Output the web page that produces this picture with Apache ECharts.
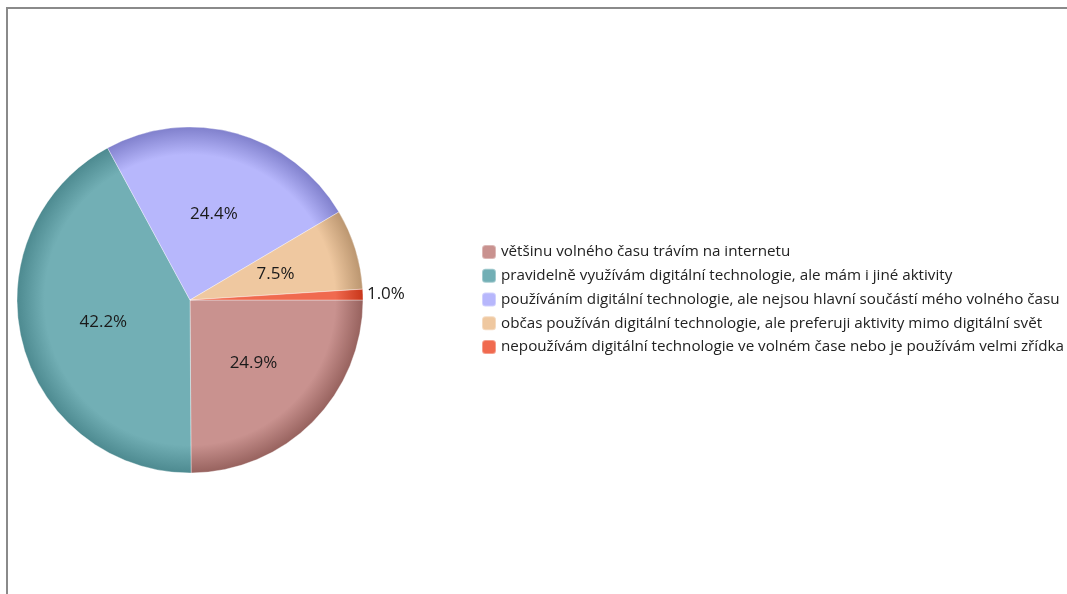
<!DOCTYPE html>
<html>
<head>
<meta charset="utf-8">
<script src="https://cdn.jsdelivr.net/npm/echarts@6/dist/echarts.min.js"></script>
<style>
  html, body { margin: 0; padding: 0; background: #fff; }
  #main { width: 1067px; height: 594px; }
</style>
</head>
<body>
<div id="main"></div>
<script>
// data
const categories = [
  "většinu volného času trávím na internetu",
  "pravidelně využívám digitální technologie, ale mám i jiné aktivity",
  "používáním digitální technologie, ale nejsou hlavní součástí mého volného času",
  "občas používán digitální technologie, ale preferuji aktivity mimo digitální svět",
  "nepoužívám digitální technologie ve volném čase nebo je používám velmi zřídka"
];
const values = [24.9, 42.2, 24.4, 7.5, 1.0];
const baseColors = ["#c9928f", "#72afb5", "#b7b7fc", "#efc8a0", "#f06a4f"];
const edgeColors = ["#97625e", "#4d8a90", "#8080cc", "#bb9670", "#c8361a"];

const cx = 190, cy = 300, radius = 173;

// shaded fill, darker near the rim
function shade(i) {
  return {
    type: "radial", x: cx, y: cy, r: radius, global: true,
    colorStops: [
      { offset: 0, color: baseColors[i] },
      { offset: 0.84, color: baseColors[i] },
      { offset: 1, color: edgeColors[i] }
    ]
  };
}

const chart = echarts.init(document.getElementById("main"));
chart.setOption({
  animation: false,
  color: baseColors,
  graphic: [{
    type: "rect",
    shape: { x: 7, y: 8, width: 1200, height: 800 },
    style: { fill: "none", stroke: "#8a8a8a", lineWidth: 2 },
    silent: true
  }],
  legend: {
    orient: "vertical",
    left: 481,
    top: 244,
    padding: 0,
    itemWidth: 14,
    itemHeight: 14,
    itemGap: 7.75,
    icon: "roundRect",
    textStyle: { fontFamily: "Open Sans", fontSize: 15.2, lineHeight: 16, color: "#222" },
    data: categories.map((name, i) => ({ name: name, itemStyle: { color: baseColors[i] } }))
  },
  series: [{
    type: "pie",
    center: [cx, cy],
    radius: [0, radius],
    startAngle: 0,
    clockwise: true,
    itemStyle: { borderColor: "rgba(255,255,255,0.35)", borderWidth: 1 },
    label: {
      position: "inside",
      fontFamily: "Open Sans",
      fontSize: 17,
      color: "#1a1a1a",
      formatter: p => p.value.toFixed(1) + "%"
    },
    labelLine: { show: false },
    data: categories.map((name, i) => {
      const item = { name: name, value: values[i], itemStyle: { color: shade(i) } };
      if (i === 4) {
        item.label = { position: "outside", distanceToLabelLine: 0 };
        item.labelLine = { show: false, length: 4, length2: 0 };
      }
      return item;
    })
  }]
});
</script>
</body>
</html>
